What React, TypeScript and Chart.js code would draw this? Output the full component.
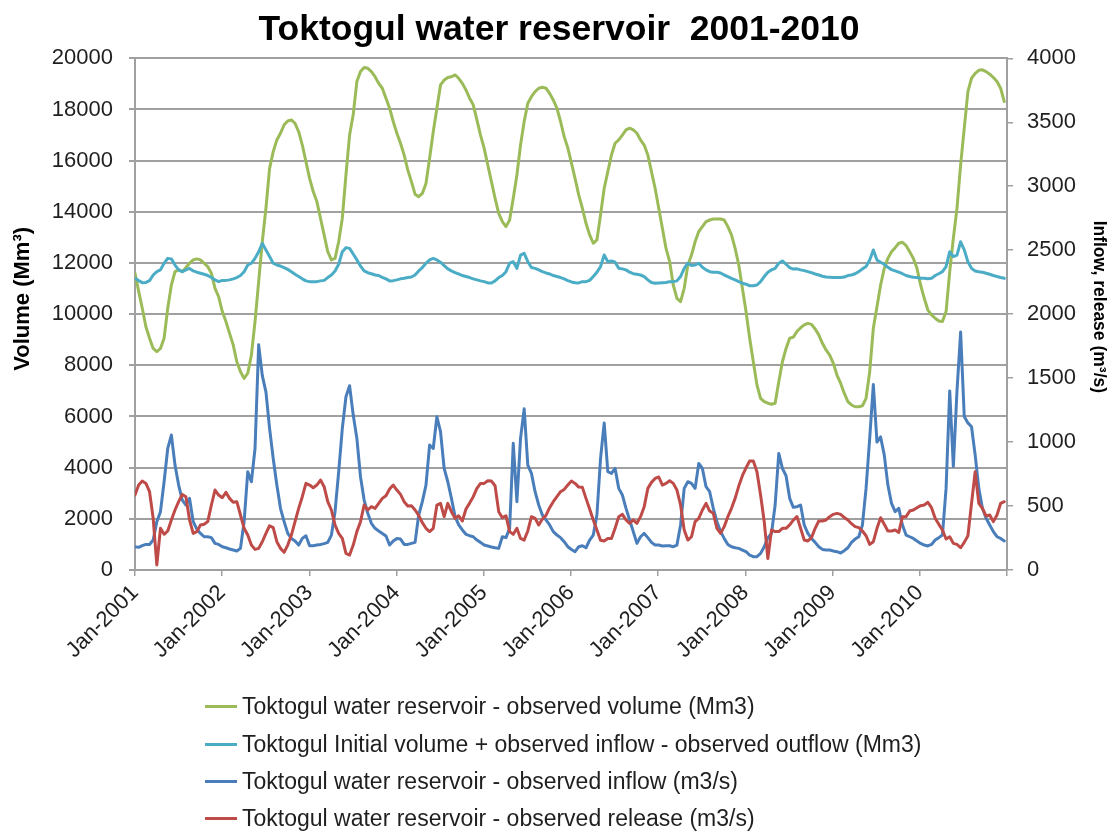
import React, { useEffect, useRef } from "react";
import { Chart, registerables } from "chart.js";

Chart.register(...registerables);

const TITLE = "Toktogul water reservoir  2001-2010";
const PERIODS_PER_YEAR = 24; // half-month steps starting Jan-2001
const TICK_LABELS = ["Jan-2001", "Jan-2002", "Jan-2003", "Jan-2004", "Jan-2005", "Jan-2006", "Jan-2007", "Jan-2008", "Jan-2009", "Jan-2010"];

const SERIES_NAMES = [
  "Toktogul water reservoir - observed volume (Mm3)",
  "Toktogul Initial volume + observed inflow - observed outflow (Mm3)",
  "Toktogul water reservoir - observed inflow (m3/s)",
  "Toktogul water reservoir - observed release (m3/s)",
];
const SERIES_COLORS = ["#9BBB59", "#4BACC6", "#4A7EBB", "#BE4B48"];

// Observed volume (Mm3), left axis
const VOLUME = [
  11600, 10900, 10230, 9510, 9060, 8660, 8530, 8660, 9060, 10230, 11140, 11660, 11730, 11660, 11820, 11990, 12120, 12160, 12120, 11990, 11860, 11600, 11010, 10680,
  10100, 9710, 9250, 8800, 8140, 7750, 7490, 7690, 8400, 9710, 11270, 12830, 14140, 15700, 16350, 16810, 17070, 17400, 17550, 17590, 17460, 17130, 16610, 15960,
  15310, 14790, 14400, 13750, 13100, 12440, 12120, 12180, 12830, 13750, 15440, 17000, 17800, 19090, 19480, 19640, 19610, 19480, 19280, 19020, 18830, 18440, 18050, 17530,
  17070, 16680, 16220, 15640, 15180, 14690, 14590, 14720, 15110, 16090, 17130, 18050, 18960, 19150, 19250, 19280, 19350, 19220, 19020, 18760, 18440, 18180, 17590, 17000,
  16480, 15830, 15180, 14530, 13940, 13620, 13420, 13680, 14530, 15440, 16610, 17530, 18240, 18500, 18700, 18830, 18870, 18830, 18630, 18370, 18050, 17530, 16940, 16500,
  15900, 15300, 14660, 14140, 13550, 13100, 12770, 12900, 13880, 14920, 15570, 16220, 16680, 16810, 17000, 17200, 17270, 17200, 17070, 16810, 16610, 16220, 15570, 14920,
  14140, 13360, 12570, 12050, 11140, 10620, 10490, 11010, 11920, 12310, 12830, 13230, 13420, 13620, 13680, 13720, 13720, 13720, 13680, 13420, 13100, 12570, 11920, 11010,
  10100, 9060, 8140, 7230, 6710, 6580, 6520, 6480, 6520, 7360, 8140, 8660, 9060, 9100, 9320, 9470, 9580, 9640, 9600, 9420, 9190, 8860, 8600, 8400,
  8080, 7620, 7300, 6910, 6580, 6450, 6380, 6380, 6420, 6710, 7750, 9450, 10290, 11140, 11790, 12180, 12440, 12600, 12770, 12810, 12680, 12440, 12180, 11790,
  11140, 10620, 10160, 9970, 9840, 9730, 9710, 10100, 11660, 12960, 14140, 15830, 17270, 18700, 19220, 19410, 19530, 19550, 19480, 19380, 19250, 19090, 18830, 18310,
];

// Initial volume + observed inflow - observed outflow (Mm3), left axis
const BALANCE = [
  11400, 11310, 11230, 11240, 11310, 11530, 11660, 11730, 11990, 12180, 12160, 11920, 11730, 11660, 11730, 11790, 11690, 11640, 11600, 11560, 11510, 11430, 11340, 11270,
  11320, 11320, 11340, 11380, 11430, 11510, 11660, 11920, 11990, 12180, 12440, 12770, 12510, 12250, 11990, 11920, 11880, 11820, 11750, 11660, 11560, 11470, 11380, 11300,
  11270, 11270, 11270, 11300, 11320, 11430, 11530, 11690, 11950, 12440, 12600, 12570, 12350, 12120, 11880, 11690, 11620, 11580, 11530, 11510, 11440, 11380, 11300, 11310,
  11340, 11380, 11400, 11430, 11450, 11530, 11690, 11820, 11990, 12120, 12180, 12120, 12030, 11900, 11770, 11690, 11620, 11570, 11510, 11470, 11430, 11380, 11340, 11300,
  11270, 11220, 11220, 11300, 11430, 11510, 11660, 11990, 12050, 11790, 12310, 12380, 12050, 11820, 11790, 11730, 11660, 11610, 11570, 11510, 11470, 11430, 11380, 11310,
  11260, 11230, 11220, 11270, 11270, 11320, 11470, 11640, 11860, 12310, 12050, 12080, 12030, 11790, 11770, 11730, 11640, 11580, 11560, 11530, 11470, 11340, 11240, 11210,
  11220, 11230, 11240, 11270, 11270, 11300, 11470, 11790, 11990, 11900, 11920, 11990, 11830, 11730, 11660, 11640, 11640, 11610, 11530, 11470, 11400, 11340, 11270, 11210,
  11170, 11110, 11110, 11140, 11270, 11470, 11640, 11730, 11790, 11990, 12080, 11950, 11820, 11760, 11770, 11730, 11700, 11660, 11620, 11570, 11530, 11480, 11450, 11440,
  11430, 11430, 11430, 11450, 11510, 11530, 11580, 11660, 11770, 11860, 12120, 12510, 12120, 12030, 11950, 11830, 11740, 11690, 11640, 11580, 11510, 11470, 11440, 11430,
  11400, 11400, 11380, 11400, 11510, 11580, 11660, 11860, 12440, 12250, 12310, 12830, 12510, 12050, 11790, 11690, 11660, 11640, 11600, 11560, 11510, 11470, 11430, 11400,
];

// Observed inflow (m3/s), right axis
const INFLOW = [
  182, 177, 190, 200, 200, 234, 378, 456, 690, 950, 1055, 820, 664, 547, 508, 560, 378, 320, 286, 260, 260, 253, 208, 200,
  182, 174, 164, 156, 148, 169, 378, 768, 690, 950, 1760, 1520, 1393, 1107, 872, 664, 482, 378, 286, 247, 227, 195, 247, 268,
  190, 190, 195, 200, 206, 216, 273, 456, 768, 1107, 1354, 1440, 1211, 1029, 729, 547, 443, 365, 326, 305, 286, 266, 195, 227,
  247, 242, 200, 200, 208, 216, 430, 534, 664, 977, 950, 1198, 1081, 794, 690, 560, 417, 352, 313, 279, 268, 260, 234, 216,
  195, 188, 180, 174, 169, 260, 253, 326, 990, 534, 1029, 1260, 820, 755, 612, 508, 430, 391, 352, 300, 273, 253, 221, 182,
  160, 143, 182, 190, 174, 234, 273, 430, 872, 1150, 768, 755, 794, 638, 586, 482, 391, 300, 208, 260, 286, 253, 216, 195,
  195, 188, 190, 190, 182, 195, 352, 638, 690, 677, 638, 833, 794, 651, 612, 482, 378, 300, 247, 200, 182, 174, 169, 156,
  143, 117, 104, 104, 130, 182, 253, 286, 508, 911, 794, 737, 560, 490, 495, 508, 352, 286, 247, 216, 182, 161, 156, 156,
  148, 143, 133, 151, 174, 216, 242, 260, 352, 638, 1029, 1450, 1000, 1040, 900, 664, 521, 456, 482, 352, 273, 260, 247, 227,
  208, 195, 188, 200, 234, 253, 273, 638, 1400, 810, 1400, 1860, 1200, 1150, 1120, 898, 638, 482, 404, 352, 300, 260, 247, 227,
];

// Observed release (m3/s), right axis
const RELEASE = [
  586, 664, 695, 677, 612, 404, 40, 326, 279, 305, 391, 469, 534, 591, 573, 391, 286, 300, 352, 357, 378, 508, 625, 586,
  565, 607, 560, 529, 534, 430, 326, 273, 195, 161, 169, 221, 286, 346, 331, 221, 169, 138, 195, 273, 378, 482, 573, 677,
  664, 643, 664, 703, 651, 534, 469, 352, 286, 247, 130, 117, 195, 300, 378, 508, 469, 495, 482, 521, 560, 581, 633, 664,
  625, 591, 534, 500, 503, 469, 427, 370, 326, 300, 326, 508, 521, 417, 521, 456, 404, 424, 383, 477, 523, 573, 638, 677,
  677, 698, 695, 659, 456, 409, 424, 300, 279, 326, 247, 234, 305, 417, 404, 352, 398, 427, 487, 534, 573, 612, 630, 664,
  695, 677, 648, 646, 560, 477, 391, 313, 232, 227, 247, 247, 326, 417, 435, 391, 365, 391, 365, 417, 495, 638, 685, 716,
  727, 664, 677, 698, 677, 625, 508, 313, 234, 260, 378, 404, 469, 521, 461, 443, 326, 286, 339, 417, 482, 560, 656, 737,
  799, 852, 852, 768, 586, 378, 90, 313, 300, 300, 326, 326, 352, 390, 417, 326, 234, 227, 253, 326, 383, 383, 391, 417,
  435, 443, 435, 411, 391, 362, 339, 331, 305, 268, 200, 221, 326, 409, 357, 305, 305, 313, 294, 417, 417, 461, 469, 487,
  503, 508, 529, 487, 404, 357, 313, 242, 260, 208, 200, 174, 216, 268, 521, 768, 521, 482, 422, 430, 378, 430, 521, 534,
];

const FONT = "'Liberation Sans', Arial, sans-serif";
const GRID = "#a0a0a0";
const TEXT = "#1f1f1f";

const toPoints = (arr: number[]) => arr.map((v, i) => ({ x: i, y: v }));
const plain = (v: any) => String(v);

export default function App() {
  const canvasRef = useRef<HTMLCanvasElement | null>(null);

  useEffect(() => {
    document.body.style.margin = "0";
    const canvas = canvasRef.current;
    if (!canvas) return;
    const chart = new Chart(canvas, {
      type: "line",
      data: {
        datasets: [
          { label: SERIES_NAMES[0], data: toPoints(VOLUME), yAxisID: "y", borderColor: SERIES_COLORS[0], order: 4 },
          { label: SERIES_NAMES[1], data: toPoints(BALANCE), yAxisID: "y", borderColor: SERIES_COLORS[1], order: 3 },
          { label: SERIES_NAMES[2], data: toPoints(INFLOW), yAxisID: "y1", borderColor: SERIES_COLORS[2], order: 2 },
          { label: SERIES_NAMES[3], data: toPoints(RELEASE), yAxisID: "y1", borderColor: SERIES_COLORS[3], order: 1 },
        ],
      },
      options: {
        animation: false,
        responsive: false,
        devicePixelRatio: 1,
        elements: {
          point: { radius: 0, hoverRadius: 0 },
          line: { borderWidth: 3, tension: 0, borderJoinStyle: "round", borderCapStyle: "round" },
        },
        layout: { padding: { top: 0, left: 0, right: 0, bottom: 151 } },
        plugins: {
          legend: { display: false },
          tooltip: { enabled: false },
          title: {
            display: true,
            text: TITLE,
            color: "#000",
            font: { family: FONT, size: 35.5, weight: "bold" },
            padding: { top: 9, bottom: 6.7 },
          },
        },
        scales: {
          x: {
            type: "linear",
            min: 0,
            max: 239.75,
            grid: { drawOnChartArea: false, drawTicks: true, tickLength: 6, color: GRID, lineWidth: 1.5 },
            border: { color: GRID, width: 2 },
            ticks: {
              stepSize: PERIODS_PER_YEAR,
              includeBounds: false,
              autoSkip: false,
              minRotation: 45,
              maxRotation: 45,
              padding: 4,
              color: TEXT,
              font: { family: FONT, size: 22 },
              callback: (v: any) => TICK_LABELS[Math.round(Number(v) / PERIODS_PER_YEAR)] ?? "",
            },
            afterFit: (s: any) => { s.height = 110; },
          },
          y: {
            type: "linear",
            position: "left",
            min: 0,
            max: 20000,
            grid: { color: GRID, lineWidth: 2, tickLength: 6 },
            border: { color: GRID, width: 2 },
            ticks: { stepSize: 2000, padding: 16, color: TEXT, font: { family: FONT, size: 22 }, callback: plain },
            title: {
              display: true,
              text: "     Volume (Mm³)",
              color: "#000",
              font: { family: FONT, size: 22, weight: "bold" },
              padding: { top: 10, bottom: 0 },
            },
            afterFit: (s: any) => { s.width = 135; },
          },
          y1: {
            type: "linear",
            position: "right",
            min: 0,
            max: 4000,
            grid: { drawOnChartArea: false, color: GRID, lineWidth: 1.5, tickLength: 6 },
            border: { color: GRID, width: 2 },
            ticks: { stepSize: 500, padding: 14, color: TEXT, font: { family: FONT, size: 22 }, callback: plain },
            title: {
              display: true,
              text: "Inflow, release (m³/s)   ",
              color: "#000",
              font: { family: FONT, size: 17.5, weight: "bold" },
              padding: { top: 9, bottom: 0 },
            },
            afterFit: (s: any) => { s.width = 111; },
          },
        },
      },
    });
    return () => chart.destroy();
  }, []);

  const legendTops = [706, 744, 781, 818];

  return (
    <div style={{ position: "relative", width: 1118, height: 831, background: "#fff", fontFamily: FONT }}>
      <canvas ref={canvasRef} width={1118} height={831} style={{ display: "block", width: 1118, height: 831 }} />
      {SERIES_NAMES.map((name, k) => (
        <div
          key={name}
          style={{
            position: "absolute",
            left: 205,
            top: legendTops[k] - 14,
            height: 28,
            display: "flex",
            alignItems: "center",
            whiteSpace: "nowrap",
            fontSize: 23,
            color: TEXT,
          }}
        >
          <span style={{ display: "inline-block", width: 32, height: 3, background: SERIES_COLORS[k], marginRight: 5 }} />
          <span>{name}</span>
        </div>
      ))}
    </div>
  );
}
